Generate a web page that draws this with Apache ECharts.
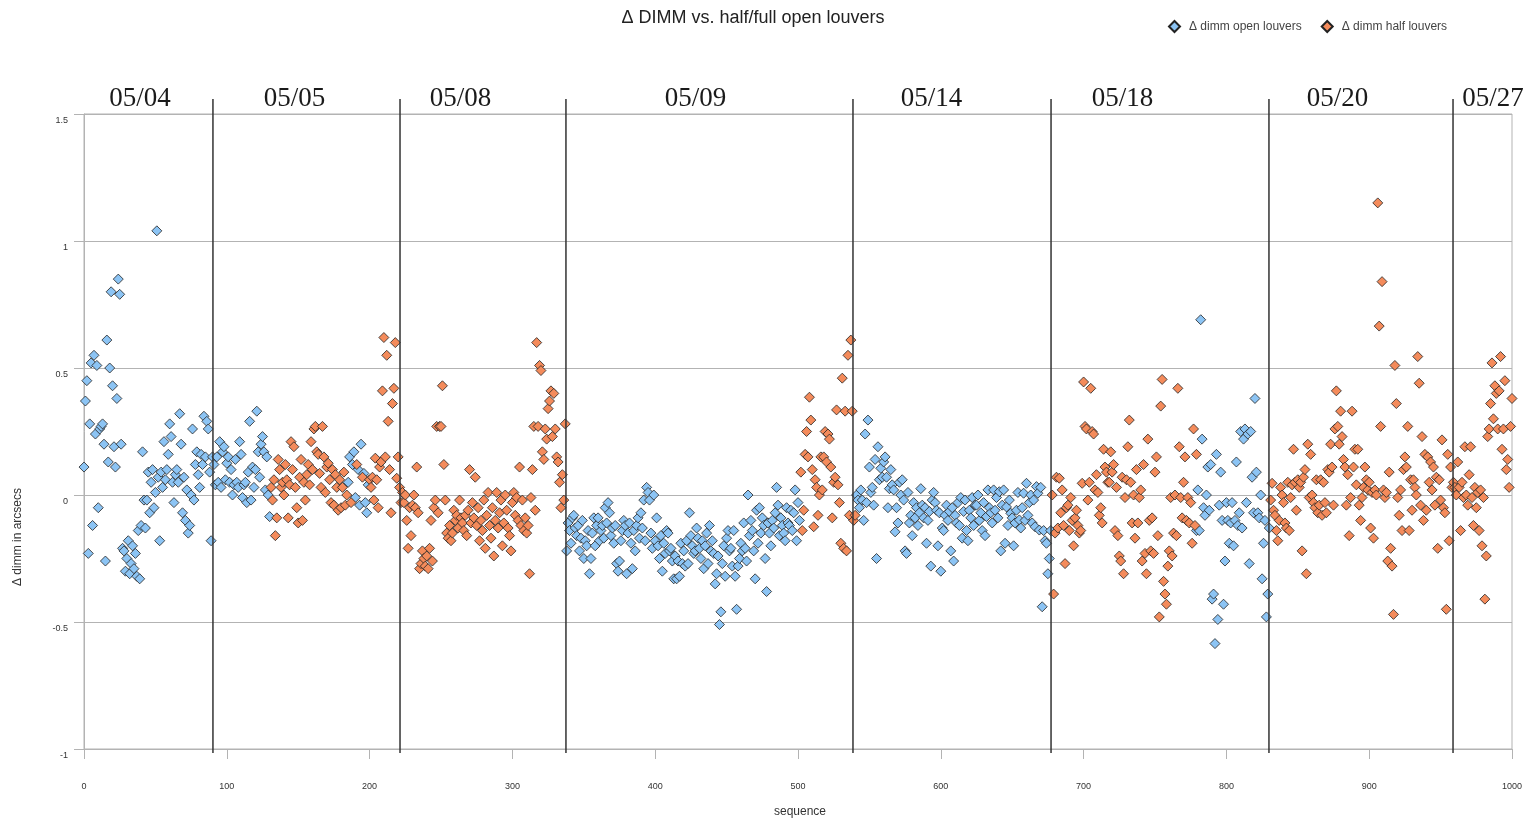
<!DOCTYPE html>
<html>
<head>
<meta charset="utf-8">
<title>Δ DIMM vs. half/full open louvers</title>
<script src="https://cdn.jsdelivr.net/npm/echarts@6/dist/echarts.min.js"></script>
<style>
  html, body { margin: 0; padding: 0; background: #ffffff; }
  #chart { width: 1532px; height: 822px; }
</style>
</head>
<body>
<div id="chart"></div>
<script>
// Δ DIMM (arcsec) per measurement sequence number; each array starts at the sequence given in its run list.
// null = no measurement of that kind at that sequence.

// ---- open louvers ----
const open_0504 = [
  0.11,0.37,0.45,-0.23,0.28,0.52,-0.12,0.55,0.24,0.51,
  -0.05,0.26,0.27,0.28,0.20,-0.26,0.61,0.13,0.50,0.80,
  0.43,0.19,0.11,0.38,0.85,0.79,0.20,-0.21,-0.22,-0.30,
  -0.25,-0.18,-0.31,-0.27,-0.20,-0.29,-0.23,-0.32,-0.14,-0.33,
  -0.12,0.17,-0.02,-0.13,-0.02,0.09,-0.07,0.05,0.10,-0.05,
  0.01,1.04,0.07,-0.18,0.09,0.03,0.21,0.06,0.10,0.16,
  0.28,0.23,0.05,-0.03,0.08,0.10,0.05,0.32,0.20,-0.07,
  0.07,-0.10,0.02,-0.15,-0.12,0.00,0.26,-0.02,0.12,0.17,
  0.08,0.03,0.16,0.12,0.31,0.15,0.29,0.26,0.09,-0.18,
  0.15
];
const open_0505a = [
  0.12,0.04,0.15,0.05,0.21,0.03,0.17,0.19,0.06,0.125,
  0.15,0.05,0.10,0.00,0.04,0.14,0.05,0.03,0.21,0.16,
  -0.01,0.04,0.05,-0.03,0.09,0.29,-0.02,0.11,0.03,0.10,
  0.33,0.17,0.07,0.20,0.23,0.17,0.02,0.15,0.00,-0.085
];
const open_0505b = [
  null,0.05,0.15,null,0.12,0.17,-0.01,null,0.10,-0.04,0.20,null,0.085,-0.03,-0.07,0.04
];
const open_0509 = [
  -0.22,-0.11,-0.14,-0.19,-0.09,-0.08,-0.13,-0.16,-0.12,-0.22,
  -0.17,-0.10,-0.25,-0.18,-0.20,-0.14,-0.31,-0.25,-0.15,-0.09,
  -0.20,-0.12,-0.09,-0.18,-0.14,-0.12,-0.17,-0.05,-0.11,-0.03,
  -0.07,-0.16,-0.13,-0.19,-0.12,-0.27,-0.30,-0.26,-0.18,-0.14,
  -0.10,-0.12,-0.31,-0.15,-0.11,-0.19,-0.29,-0.14,-0.22,-0.12,
  -0.09,-0.17,-0.07,-0.13,-0.02,-0.18,0.03,0.01,-0.02,-0.15,
  -0.21,0.00,-0.18,-0.09,-0.20,-0.25,-0.16,-0.30,-0.19,-0.23,
  -0.14,-0.15,-0.22,-0.21,-0.26,-0.33,-0.24,-0.33,-0.26,-0.32,
  -0.19,-0.27,-0.22,-0.28,-0.18,-0.27,-0.07,-0.16,-0.20,-0.23,
  -0.22,-0.13,-0.17,-0.21,-0.25,-0.18,-0.29,-0.20,-0.15,-0.27,
  -0.12,-0.22,-0.18,-0.23,-0.35,-0.31,-0.24,-0.51,-0.46,-0.27,
  -0.20,-0.32,-0.17,-0.14,-0.22,-0.21,-0.28,-0.14,-0.32,-0.45,
  -0.28,-0.25,-0.19,-0.22,-0.11,-0.21,-0.26,0.00,-0.16,-0.10,
  -0.14,-0.22,-0.33,-0.06,-0.19,-0.05,-0.15,-0.09,-0.12,-0.25,
  -0.38,-0.11,-0.15,-0.20,-0.10,-0.13,-0.07,0.03,-0.04,-0.16,
  -0.09,-0.12,-0.15,-0.18,-0.05,-0.11,-0.12,-0.06,-0.14,-0.07,
  0.02,-0.18,-0.03,-0.10
];
const open_0514 = [
  0.00,-0.02,-0.05,0.02,-0.02,-0.10,0.24,-0.03,0.295,0.11,
  0.01,0.03,-0.04,0.14,-0.25,0.19,0.06,0.105,0.07,0.13,
  0.15,0.07,-0.05,0.025,0.10,0.04,0.02,-0.145,-0.05,-0.11,
  0.05,0.00,0.06,-0.02,-0.22,-0.23,0.01,-0.11,-0.08,-0.16,
  -0.03,-0.09,-0.05,-0.12,-0.07,0.025,-0.04,-0.09,-0.05,-0.19,
  -0.10,-0.065,-0.28,-0.02,0.01,-0.03,-0.06,-0.20,-0.07,-0.30,
  -0.13,-0.14,-0.08,-0.04,-0.10,-0.065,-0.22,-0.05,-0.26,-0.08,
  -0.11,-0.03,-0.12,-0.01,-0.17,-0.065,-0.02,-0.14,-0.18,-0.06,
  -0.09,-0.01,-0.12,-0.04,-0.04,0.00,-0.10,-0.07,-0.14,-0.03,
  -0.16,-0.085,0.02,-0.05,-0.07,-0.11,0.02,-0.06,-0.01,-0.09,
  0.013,-0.22,-0.04,0.02,-0.19,-0.047,-0.12,-0.02,-0.072,-0.09,
  -0.20,-0.11,-0.06,0.01,-0.098,-0.13,-0.05,0.007,-0.10,0.046,
  -0.08,-0.03,0.00,-0.11,-0.02,-0.125,0.033,0.007,-0.138,0.03,
  -0.44,-0.14,-0.18,-0.19,-0.31,-0.25,-0.14
];
const open_0518 = [
  -0.14,0.02,-0.14,0.69,0.22,-0.05,-0.08,0.00,0.11,-0.06,
  0.12,-0.41,-0.39,-0.585,0.16,-0.49,-0.04,0.09,-0.10,-0.43,
  -0.26,-0.03,-0.10,-0.19,-0.11,-0.03,-0.20,-0.10,0.13,-0.12,
  -0.07,0.25,-0.13,0.22,0.26,-0.03,0.24,-0.27,0.25,0.07,
  -0.07,0.38,0.09,-0.07,-0.09,0.00,-0.33,-0.19,-0.10,-0.48,-0.39,-0.13
];

// ---- half louvers ----
const half_0505a = [
  0.03,-0.02,0.06,-0.16,-0.09,0.14,0.10,0.03,0.05,0.00,
  0.12,0.06,-0.09,0.04,0.21,0.10,0.19,0.03,-0.05,-0.11,
  0.07,0.14,-0.10,0.05,-0.02,0.08,0.12,0.04,0.21,0.10,
  0.26,0.27,0.17,0.16,0.085,0.03,0.27,0.15,0.01,0.11,
  0.125,0.06,-0.03,0.10,-0.04,0.08,0.03,-0.06,0.06,-0.05,
  0.03,0.09,-0.04
];
const half_0505b = [
  0.00,null,null,-0.03,null,null,null,0.12,null,null,null,0.07,null,null,null,null,
  0.06,0.03,0.07,-0.02,0.145,0.06,-0.05,0.11,0.13,0.41,0.62,0.15,0.55,0.29,
  0.10,-0.07,0.36,0.42,0.60,0.066,0.15,0.03
];
const half_0508 = [
  -0.03,0.01,-0.03,0.00,-0.10,-0.21,-0.05,-0.16,-0.04,0.00,
  -0.05,0.11,-0.07,-0.29,-0.27,-0.22,-0.25,-0.28,-0.24,-0.29,
  -0.21,-0.10,-0.26,-0.05,-0.02,0.27,-0.07,0.27,0.27,0.43,
  0.12,-0.02,-0.15,-0.17,-0.12,-0.18,-0.15,-0.06,-0.10,-0.08,
  -0.13,-0.02,-0.09,-0.11,-0.14,-0.08,-0.16,-0.06,0.10,-0.11,
  -0.03,-0.09,0.07,-0.12,-0.05,-0.18,-0.10,-0.14,-0.02,-0.21,
  -0.08,0.01,-0.12,-0.17,-0.05,-0.24,-0.10,0.01,-0.13,-0.07,
  -0.02,-0.20,-0.11,0.00,-0.06,-0.13,-0.16,-0.22,-0.03,0.01,
  -0.08,-0.01,-0.10,0.11,-0.12,-0.02,-0.14,-0.09,-0.15,-0.12,
  -0.31,-0.01,0.10,0.27,-0.06,0.60,0.27,0.51,0.49,0.17,
  0.14,0.26,0.22,0.34,0.37,0.41,0.23,0.40,0.26,0.15,
  0.13,0.05,-0.05,0.08,-0.02,0.28
];
const half_0509 = [
  0.09,-0.14,-0.06,0.16,0.25,0.15,0.385,0.295,0.10,-0.125,
  0.06,0.03,-0.08,0.00,0.15,0.02,0.15,0.25,0.13,0.24,
  0.22,0.11,-0.09,0.05,0.07,0.335,0.04,-0.03,-0.19,0.46,
  -0.21,0.33,-0.22,0.55,-0.08,0.61,0.33
];
const half_0514 = [-0.10, -0.08];
const half_0518 = [
  0.00,-0.39,-0.15,0.07,-0.13,0.066,-0.07,0.02,-0.12,-0.27,
  -0.05,-0.04,-0.14,-0.01,-0.10,-0.20,-0.09,-0.06,-0.12,-0.15,
  -0.14,0.046,0.445,0.27,0.26,-0.02,0.05,0.42,0.25,0.24,
  0.02,0.08,0.01,-0.08,-0.05,-0.11,0.18,0.11,0.09,0.05,
  0.05,0.17,0.09,0.12,-0.14,0.03,-0.16,-0.24,-0.26,0.07,
  -0.31,-0.01,0.06,0.19,0.295,0.05,-0.11,0.00,-0.17,0.10,
  -0.11,-0.01,0.02,-0.26,0.12,-0.23,-0.31,0.22,-0.10,-0.22,
  -0.09,-0.23,0.09,0.15,-0.16,-0.48,0.35,0.455,-0.34,-0.39,
  -0.43,-0.28,-0.22,-0.01,-0.24,-0.15,0.00,-0.16,0.42,0.19,
  -0.01,-0.09,0.05,0.15,-0.10,-0.01,-0.11,-0.03,-0.19,0.26,-0.12,0.16
];
const half_0520 = [
  -0.02,0.046,-0.06,-0.08,-0.14,-0.18,-0.10,0.03,0.00,-0.03,
  -0.11,-0.13,0.05,-0.14,-0.01,0.04,0.18,0.05,-0.06,0.06,
  0.03,0.05,-0.22,0.07,0.10,-0.31,0.20,-0.01,0.16,0.00,
  -0.03,-0.05,0.06,-0.07,-0.04,0.06,-0.08,0.05,-0.03,-0.07,
  0.10,0.09,0.20,0.11,-0.04,0.26,0.41,0.27,0.20,0.33,
  0.23,0.14,0.11,-0.04,0.08,-0.16,-0.01,0.33,0.11,0.18,
  0.04,0.18,-0.04,-0.10,-0.01,0.03,0.11,0.06,0.02,0.05,
  -0.13,0.01,-0.17,0.02,0.00,1.15,0.665,0.27,0.84,0.02,
  -0.01,0.01,-0.26,0.09,-0.21,-0.28,-0.47,0.51,0.36,-0.01,
  -0.08,0.02,-0.14,0.10,0.15,0.11,0.27,-0.14,0.06,-0.06,
  0.06,0.03,0.00,0.545,0.44,-0.04,0.23,-0.10,0.16,-0.06,
  0.15,0.05,0.13,0.02,0.11,-0.04,0.07,-0.21,0.06,-0.02,
  0.217,-0.05,-0.07,-0.45,0.16,-0.18,0.11,0.03
];
const half_0527 = [
  0.05,0.03,0.00,0.13,0.03,-0.14,0.05,-0.01,0.19,0.00,
  -0.04,0.08,0.19,-0.01,-0.12,0.03,-0.05,0.01,-0.14,0.02,
  -0.20,-0.01,-0.41,-0.24,0.23,0.26,0.36,0.52,0.30,0.43,
  0.40,0.26,0.41,0.545,0.18,0.26,0.45,0.10,0.14,0.03,0.27,0.38
];

// first sequence number of each run
const openRuns = [[0, open_0504], [91, open_0505a], [184, open_0505b], [338, open_0509], [541, open_0514], [779, open_0518]];
const halfRuns = [[131, half_0505a], [184, half_0505b], [222, half_0508], [502, half_0509], [539, half_0514], [678, half_0518], [831, half_0520], [959, half_0527]];

// night boundaries (sequence) and night labels
const dayBreaks = [90.3, 221.3, 337.5, 538.5, 677.2, 829.8, 958.7];
const dayNames = ['05/04', '05/05', '05/08', '05/09', '05/14', '05/18', '05/20', '05/27'];
const dayLabelSeq = [39.2, 147.4, 263.7, 428.2, 593.5, 727.2, 877.8, 986.7];

const Y_MIN = -1, Y_MAX = 1.5;
const OPEN_NAME = 'Δ dimm open louvers';
const HALF_NAME = 'Δ dimm half louvers';

function toPoints(runs) {
  const pts = [];
  runs.forEach(([start, values]) => {
    values.forEach((v, i) => { if (v !== null) pts.push([start + i, v]); });
  });
  return pts;
}

const tickLabel = { fontFamily: 'Liberation Sans', fontSize: 9, color: '#333333' };
const frameGrey = '#b3b3b3';

const chart = echarts.init(document.getElementById('chart'), null, { renderer: 'canvas' });

chart.setOption({
  animation: false,
  backgroundColor: '#ffffff',
  legend: {
    left: 1168, top: 20, padding: 0,
    itemWidth: 11, itemHeight: 11, itemGap: 19,
    icon: 'diamond',
    textStyle: { fontFamily: 'Liberation Sans', fontSize: 12, color: '#444444', padding: [0, 0, 0, 4] },
    data: [OPEN_NAME, HALF_NAME]
  },
  grid: { left: 84, right: 20, top: 114, bottom: 73, show: true, borderColor: frameGrey, borderWidth: 1 },
  xAxis: {
    type: 'value', min: 0, max: 1000, interval: 100,
    axisLine: { show: true, onZero: false, lineStyle: { color: frameGrey } },
    axisTick: { show: true, length: 10, lineStyle: { color: frameGrey } },
    axisLabel: Object.assign({ margin: 33, formatter: v => String(v) }, tickLabel),
    splitLine: { show: false }
  },
  yAxis: {
    type: 'value', min: Y_MIN, max: Y_MAX, interval: 0.5,
    axisLine: { show: true, onZero: false, lineStyle: { color: frameGrey } },
    axisTick: { show: true, length: 10, lineStyle: { color: frameGrey } },
    axisLabel: Object.assign({ margin: 16, verticalAlign: 'top', lineHeight: 13 }, tickLabel),
    splitLine: { show: true, lineStyle: { color: frameGrey, width: 1 } }
  },
  graphic: [
    { type: 'text', x: 753, y: 18, style: { text: 'Δ DIMM vs. half/full open louvers', fontFamily: 'Liberation Sans', fontSize: 18, fill: '#222222', align: 'center', verticalAlign: 'middle' } },
    { type: 'text', x: 18, y: 537, rotation: Math.PI / 2, style: { text: 'Δ dimm in arcsecs', fontFamily: 'Liberation Sans', fontSize: 12, fill: '#333333', align: 'center', verticalAlign: 'middle' } },
    { type: 'text', x: 800, y: 812, style: { text: 'sequence', fontFamily: 'Liberation Sans', fontSize: 12, fill: '#333333', align: 'center', verticalAlign: 'middle' } }
  ],
  series: [
    {
      name: OPEN_NAME, type: 'scatter', symbol: 'diamond', symbolSize: 10, z: 3,
      itemStyle: { color: '#8cc4f4', borderColor: '#222222', borderWidth: 0.8, opacity: 1 },
      data: toPoints(openRuns)
    },
    {
      name: HALF_NAME, type: 'scatter', symbol: 'diamond', symbolSize: 10, z: 4,
      itemStyle: { color: '#f48b5b', borderColor: '#222222', borderWidth: 0.8, opacity: 1 },
      data: toPoints(halfRuns)
    },
    {
      // night separators, drawn a little past the plot frame
      type: 'custom', clip: false, silent: true, z: 6,
      data: dayBreaks.map(s => [s, Y_MAX]),
      renderItem: function (params, api) {
        const top = api.coord([api.value(0), Y_MAX]);
        const bottom = api.coord([api.value(0), Y_MIN]);
        return {
          type: 'line',
          shape: { x1: top[0], y1: top[1] - 15, x2: bottom[0], y2: bottom[1] + 4 },
          style: { stroke: '#333333', lineWidth: 1.5 }
        };
      }
    },
    {
      // night labels above the plot frame
      type: 'custom', clip: false, silent: true, z: 6,
      data: dayLabelSeq.map(s => [s, Y_MAX]),
      renderItem: function (params, api) {
        const p = api.coord([api.value(0), Y_MAX]);
        return {
          type: 'text',
          x: p[0], y: p[1] - 15,
          style: { text: dayNames[params.dataIndex], fontFamily: 'Liberation Serif', fontSize: 27, fill: '#1a1a1a', align: 'center', verticalAlign: 'middle' }
        };
      }
    }
  ]
});
</script>
</body>
</html>
